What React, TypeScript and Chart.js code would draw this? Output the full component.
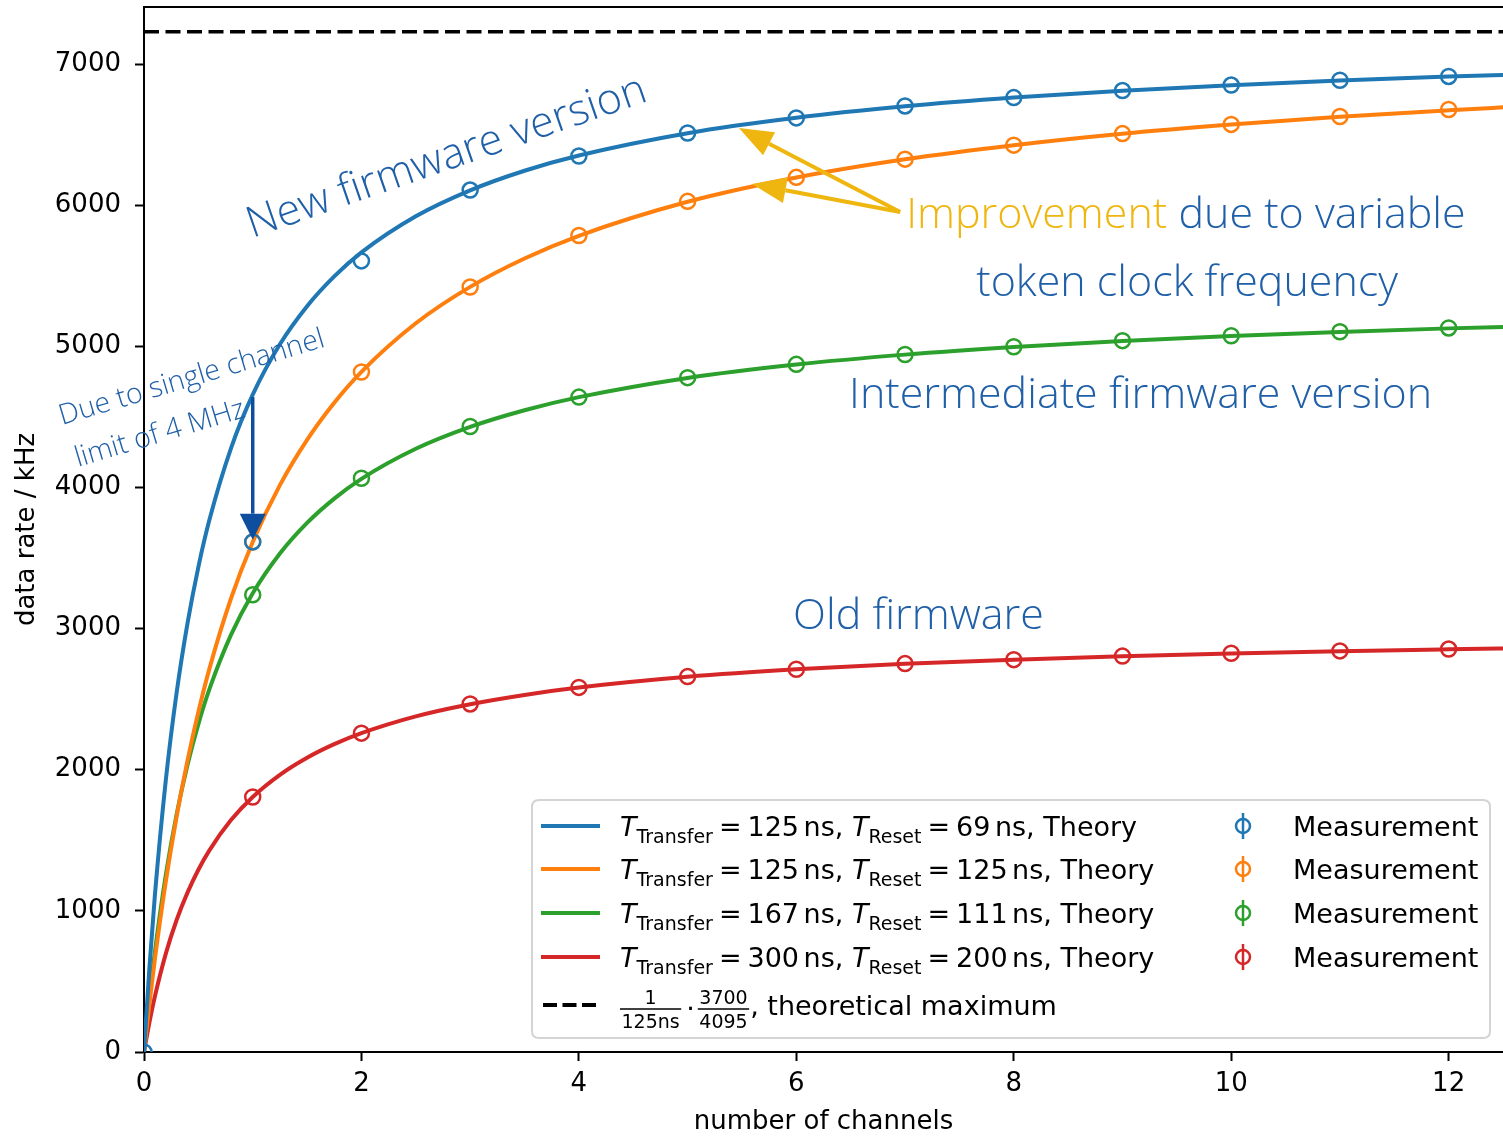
import React, { useEffect, useRef } from 'react';
import { Chart, registerables } from 'chart.js';

Chart.register(...registerables);

// ---------------- data ----------------
const channels = [0, 1, 2, 3, 4, 5, 6, 7, 8, 9, 10, 11, 12];

// sample positions along the theory curves (number of channels)
const theoryX = [0, 0.05, 0.1, 0.2, 0.3, 0.4, 0.5, 0.6, 0.8, 1, 1.25, 1.5, 1.75, 2, 2.5, 3, 3.5, 4, 5, 6, 7, 8, 9, 10, 11, 12, 12.6];

const theoryBlue = [0, 600, 1109, 1922, 2545, 3037, 3436, 3765, 4277, 4657, 5014, 5284, 5495, 5665, 5921, 6105, 6244, 6352, 6510, 6619, 6700, 6762, 6811, 6850, 6883, 6911, 6925];
const theoryOrange = [0, 344, 657, 1205, 1668, 2065, 2409, 2711, 3213, 3614, 4016, 4337, 4600, 4819, 5163, 5421, 5622, 5783, 6024, 6196, 6325, 6425, 6506, 6571, 6626, 6672, 6697];
const theoryGreen = [0, 379, 708, 1251, 1683, 2033, 2323, 2567, 2955, 3250, 3532, 3749, 3921, 4061, 4274, 4429, 4547, 4640, 4776, 4871, 4941, 4995, 5038, 5073, 5102, 5127, 5139];
const theoryRed = [0, 210, 393, 695, 935, 1129, 1291, 1427, 1643, 1807, 1964, 2085, 2181, 2259, 2378, 2464, 2530, 2582, 2658, 2711, 2750, 2780, 2804, 2824, 2840, 2853, 2860];

// measurements (blue starts at 0 channels, the others at 1 channel)
const measBlue = [0, 3614, 5605, 6107, 6348, 6511, 6618, 6703, 6762, 6812, 6851, 6885, 6912];
const measOrange = [3614, 4818, 5420, 5785, 6027, 6197, 6326, 6425, 6507, 6572, 6628, 6678];
const measGreen = [3240, 4065, 4432, 4640, 4778, 4872, 4942, 4997, 5040, 5075, 5103, 5130];
const measRed = [1807, 2259, 2466, 2583, 2660, 2712, 2752, 2780, 2805, 2825, 2842, 2855];

const theoreticalMax = 7228; // 1/125ns * 3700/4095 in kHz

const xTicks = [0, 2, 4, 6, 8, 10, 12];
const yTicks = [0, 1000, 2000, 3000, 4000, 5000, 6000, 7000];
const xMax = 12.5;
const yMax = 7404;

const theoryLabels = [
  { tr: '125', rs: '69' },
  { tr: '125', rs: '125' },
  { tr: '167', rs: '111' },
  { tr: '300', rs: '200' },
];
const measurementLabel = 'Measurement';

// ---------------- styles ----------------
const COLORS = ['#1f77b4', '#ff7f0e', '#2ca02c', '#d62728'];
const ANNOT_BLUE = '#1f5fa8';
const GOLD = '#efb60f';
const DARK_BLUE = '#0d4f9e';
const ANNOT_FONT = '300 43px "Open Sans", "Noto Sans", sans-serif';
const ANNOT_FONT_SMALL = '300 28.5px "Open Sans", "Noto Sans", sans-serif';
const AXIS_FONT = '"DejaVu Sans", sans-serif';

const pts = (xs: number[], ys: number[]) => ys.map((y, i) => ({ x: xs[i], y }));

function rotText(ctx: CanvasRenderingContext2D, text: string, x: number, y: number, deg: number, font: string, color: string) {
  ctx.save();
  ctx.translate(x, y);
  ctx.rotate((deg * Math.PI) / 180);
  ctx.font = font;
  ctx.fillStyle = color;
  ctx.textAlign = 'left';
  ctx.textBaseline = 'alphabetic';
  ctx.fillText(text, 0, 0);
  ctx.restore();
}

function arrow(ctx: CanvasRenderingContext2D, x1: number, y1: number, x2: number, y2: number, color: string, lw: number, headLen: number, headHalf: number) {
  const a = Math.atan2(y2 - y1, x2 - x1);
  const bx = x2 - headLen * Math.cos(a);
  const by = y2 - headLen * Math.sin(a);
  ctx.save();
  ctx.strokeStyle = color;
  ctx.fillStyle = color;
  ctx.lineWidth = lw;
  ctx.lineCap = 'butt';
  ctx.beginPath();
  ctx.moveTo(x1, y1);
  ctx.lineTo(bx, by);
  ctx.stroke();
  ctx.beginPath();
  ctx.moveTo(x2, y2);
  ctx.lineTo(bx + headHalf * Math.sin(a), by - headHalf * Math.cos(a));
  ctx.lineTo(bx - headHalf * Math.sin(a), by + headHalf * Math.cos(a));
  ctx.closePath();
  ctx.fill();
  ctx.restore();
}

const annotationPlugin = {
  id: 'annotations',
  afterDatasetsDraw(chart: any) {
    const ctx: CanvasRenderingContext2D = chart.ctx;
    const xs = chart.scales.x;
    const ys = chart.scales.y;
    const P = (x: number, y: number) => [xs.getPixelForValue(x), ys.getPixelForValue(y)];

    // New firmware version
    let [px, py] = P(0.995, 5767);
    rotText(ctx, 'New firmware version', px, py, -19.1, ANNOT_FONT, ANNOT_BLUE);

    // Due to single channel limit of 4 MHz
    [px, py] = P(-0.755, 4442);
    rotText(ctx, 'Due to single channel', px, py, -16.6, ANNOT_FONT_SMALL, ANNOT_BLUE);
    [px, py] = P(-0.608, 4145);
    rotText(ctx, 'limit of 4 MHz', px, py, -16.6, ANNOT_FONT_SMALL, ANNOT_BLUE);

    // dark blue arrow
    const [ax1, ay1] = P(1.0, 4640);
    const [ax2, ay2] = P(1.0, 3630);
    arrow(ctx, ax1, ay1, ax2, ay2, DARK_BLUE, 3.5, 26, 13);

    // Improvement due to variable token clock frequency
    ctx.save();
    [px, py] = P(7.01, 5838);
    ctx.font = ANNOT_FONT;
    ctx.textBaseline = 'alphabetic';
    ctx.textAlign = 'left';
    ctx.fillStyle = GOLD;
    ctx.fillText('Improvement', px, py);
    const w = ctx.measureText('Improvement ').width;
    ctx.fillStyle = ANNOT_BLUE;
    ctx.fillText('due to variable', px + w, py);
    [px, py] = P(7.655, 5356);
    ctx.fillText('token clock frequency', px, py);
    [px, py] = P(6.485, 4563);
    ctx.fillText('Intermediate firmware version', px, py);
    [px, py] = P(5.97, 2997);
    ctx.fillText('Old firmware', px, py);
    ctx.restore();

    // gold arrows
    const [gx, gy] = P(6.955, 5952);
    const [t1x, t1y] = P(5.472, 6547);
    const [t2x, t2y] = P(5.592, 6150);
    arrow(ctx, gx, gy, t1x, t1y, GOLD, 4, 34, 13);
    arrow(ctx, gx, gy, t2x, t2y, GOLD, 4, 34, 13);

    // top spine
    const ca = chart.chartArea;
    ctx.save();
    ctx.strokeStyle = '#000';
    ctx.lineWidth = 2;
    ctx.beginPath();
    ctx.moveTo(ca.left - 1, ca.top);
    ctx.lineTo(ca.right, ca.top);
    ctx.stroke();
    ctx.restore();
  },
};

type Seg = { t?: string; f?: 'it' | 'sub' | 'rm'; gap?: number };

function drawSegs(ctx: CanvasRenderingContext2D, x: number, y: number, segs: Seg[]) {
  let cx = x;
  for (const s of segs) {
    if (s.gap) {
      cx += s.gap;
      continue;
    }
    let font = `27px ${AXIS_FONT}`;
    let dy = 0;
    if (s.f === 'it') font = `italic 27px ${AXIS_FONT}`;
    if (s.f === 'sub') {
      font = `19px ${AXIS_FONT}`;
      dy = 6.5;
    }
    ctx.font = font;
    ctx.fillText(s.t || '', cx, y + dy);
    cx += ctx.measureText(s.t || '').width;
  }
  return cx;
}

function roundRect(ctx: CanvasRenderingContext2D, x: number, y: number, w: number, h: number, r: number) {
  ctx.beginPath();
  ctx.moveTo(x + r, y);
  ctx.lineTo(x + w - r, y);
  ctx.quadraticCurveTo(x + w, y, x + w, y + r);
  ctx.lineTo(x + w, y + h - r);
  ctx.quadraticCurveTo(x + w, y + h, x + w - r, y + h);
  ctx.lineTo(x + r, y + h);
  ctx.quadraticCurveTo(x, y + h, x, y + h - r);
  ctx.lineTo(x, y + r);
  ctx.quadraticCurveTo(x, y, x + r, y);
  ctx.closePath();
}

const legendPlugin = {
  id: 'mathLegend',
  afterDraw(chart: any) {
    const ctx: CanvasRenderingContext2D = chart.ctx;
    const ca = chart.chartArea;
    const bw = 958;
    const bh = 238;
    const bx = ca.right - 13 - bw;
    const by = ca.bottom - 14 - bh;
    ctx.save();
    roundRect(ctx, bx, by, bw, bh, 7);
    ctx.fillStyle = 'rgba(255,255,255,0.85)';
    ctx.fill();
    ctx.strokeStyle = '#d4d4d4';
    ctx.lineWidth = 2;
    ctx.stroke();

    const rowsY = [26, 69, 113, 157];
    ctx.textAlign = 'left';
    ctx.textBaseline = 'alphabetic';
    ctx.fillStyle = '#000';
    theoryLabels.forEach((lab, i) => {
      const ry = by + rowsY[i];
      ctx.strokeStyle = COLORS[i];
      ctx.lineWidth = 4;
      ctx.beginPath();
      ctx.moveTo(bx + 9, ry);
      ctx.lineTo(bx + 68, ry);
      ctx.stroke();
      ctx.fillStyle = '#000';
      drawSegs(ctx, bx + 88, ry + 10, [
        { t: 'T', f: 'it' },
        { t: 'Transfer', f: 'sub' },
        { gap: 6 },
        { t: '=' },
        { gap: 6 },
        { t: lab.tr },
        { gap: 4.5 },
        { t: 'ns' },
        { t: ', ' },
        { t: 'T', f: 'it' },
        { t: 'Reset', f: 'sub' },
        { gap: 6 },
        { t: '=' },
        { gap: 6 },
        { t: lab.rs },
        { gap: 4.5 },
        { t: 'ns' },
        { t: ', Theory' },
      ]);

      // measurement marker
      const mx = bx + 711;
      ctx.strokeStyle = COLORS[i];
      ctx.lineWidth = 2.5;
      ctx.beginPath();
      ctx.moveTo(mx, ry - 13);
      ctx.lineTo(mx, ry + 13);
      ctx.stroke();
      ctx.beginPath();
      ctx.arc(mx, ry, 7, 0, Math.PI * 2);
      ctx.stroke();
      ctx.font = `27px ${AXIS_FONT}`;
      ctx.fillStyle = '#000';
      ctx.fillText(measurementLabel, bx + 761, ry + 10);
    });

    // dashed max row
    const dy = by + 205;
    ctx.strokeStyle = '#000';
    ctx.lineWidth = 4;
    ctx.setLineDash([14, 5.5]);
    ctx.beginPath();
    ctx.moveTo(bx + 11, dy);
    ctx.lineTo(bx + 66, dy);
    ctx.stroke();
    ctx.setLineDash([]);

    const fracFont = `19px ${AXIS_FONT}`;
    ctx.font = fracFont;
    ctx.fillStyle = '#000';
    const drawFrac = (x: number, num: string, den: string) => {
      ctx.font = fracFont;
      const wn = ctx.measureText(num).width;
      const wd = ctx.measureText(den).width;
      const w = Math.max(wn, wd) + 3;
      ctx.textAlign = 'left';
      ctx.fillText(num, x + (w - wn) / 2, dy - 1);
      ctx.fillText(den, x + (w - wd) / 2, dy + 23);
      ctx.lineWidth = 1.4;
      ctx.beginPath();
      ctx.moveTo(x, dy + 4);
      ctx.lineTo(x + w, dy + 4);
      ctx.stroke();
      return x + w;
    };
    let cx = drawFrac(bx + 88, '1', '125ns');
    ctx.font = `27px ${AXIS_FONT}`;
    cx += 5;
    ctx.fillText('·', cx, dy + 13);
    cx += ctx.measureText('·').width + 3;
    cx = drawFrac(cx, '3700', '4095');
    ctx.font = `27px ${AXIS_FONT}`;
    ctx.fillText(', theoretical maximum', cx + 1, dy + 10);
    ctx.restore();
  },
};

export default function App() {
  const canvasRef = useRef<HTMLCanvasElement | null>(null);

  useEffect(() => {
    if (!canvasRef.current) return;
    const measStyle = (color: string) => ({
      showLine: false,
      pointStyle: 'circle',
      pointRadius: 7.5,
      pointHoverRadius: 7.5,
      pointBorderWidth: 2.5,
      pointBorderColor: color,
      pointBackgroundColor: 'rgba(0,0,0,0)',
      borderColor: color,
      backgroundColor: 'rgba(0,0,0,0)',
    });
    const lineStyle = (color: string) => ({
      showLine: true,
      pointRadius: 0,
      pointHoverRadius: 0,
      borderColor: color,
      backgroundColor: color,
      borderWidth: 4,
      cubicInterpolationMode: 'monotone',
      fill: false,
    });

    const chart = new Chart(canvasRef.current, {
      type: 'scatter',
      data: {
        datasets: [
          { label: 'Measurement', data: pts(channels, measBlue), ...measStyle(COLORS[0]) },
          { label: 'Measurement', data: pts(channels.slice(1), measOrange), ...measStyle(COLORS[1]) },
          { label: 'Measurement', data: pts(channels.slice(1), measGreen), ...measStyle(COLORS[2]) },
          { label: 'Measurement', data: pts(channels.slice(1), measRed), ...measStyle(COLORS[3]) },
          { label: 'Theory 125/69', data: pts(theoryX, theoryBlue), ...lineStyle(COLORS[0]) },
          { label: 'Theory 125/125', data: pts(theoryX, theoryOrange), ...lineStyle(COLORS[1]) },
          { label: 'Theory 167/111', data: pts(theoryX, theoryGreen), ...lineStyle(COLORS[2]) },
          { label: 'Theory 300/200', data: pts(theoryX, theoryRed), ...lineStyle(COLORS[3]) },
          {
            label: 'theoretical maximum',
            data: [
              { x: 0, y: theoreticalMax },
              { x: 12.6, y: theoreticalMax },
            ],
            showLine: true,
            pointRadius: 0,
            borderColor: '#000',
            borderWidth: 3.5,
            borderDash: [15, 6.5],
          },
        ] as any,
      },
      options: {
        responsive: false,
        animation: false,
        devicePixelRatio: 1,
        layout: { autoPadding: false, padding: { left: 0, top: 7, right: 0, bottom: 0 } },
        plugins: { legend: { display: false }, tooltip: { enabled: false } },
        events: [],
        scales: {
          x: {
            type: 'linear',
            min: 0,
            max: xMax,
            afterBuildTicks: (s: any) => {
              s.ticks = xTicks.map((v) => ({ value: v }));
            },
            afterFit: (s: any) => {
              s.height = 85;
              s.paddingLeft = 0;
              s.paddingRight = 0;
              s.paddingTop = 0;
              s.paddingBottom = 0;
            },
            ticks: {
              callback: (v: any) => String(v),
              font: { family: AXIS_FONT, size: 26 },
              color: '#000',
              padding: 8,
              maxRotation: 0,
              autoSkip: false,
            },
            grid: { drawOnChartArea: false, drawTicks: true, tickLength: 9, tickWidth: 2, tickColor: '#000' },
            border: { color: '#000', width: 2 },
            title: {
              display: true,
              text: 'number of channels',
              font: { family: AXIS_FONT, size: 26, lineHeight: 1.1 },
              color: '#000',
              padding: { top: 0, bottom: 0 },
            },
          },
          y: {
            type: 'linear',
            min: 0,
            max: yMax,
            afterBuildTicks: (s: any) => {
              s.ticks = yTicks.map((v) => ({ value: v }));
            },
            afterFit: (s: any) => {
              s.width = 144;
              s.paddingLeft = 0;
              s.paddingRight = 0;
              s.paddingTop = 0;
              s.paddingBottom = 0;
            },
            ticks: {
              callback: (v: any) => String(v),
              font: { family: AXIS_FONT, size: 26 },
              color: '#000',
              padding: 14,
              autoSkip: false,
            },
            grid: { drawOnChartArea: false, drawTicks: true, tickLength: 9, tickWidth: 2, tickColor: '#000' },
            border: { color: '#000', width: 2 },
            title: {
              display: true,
              text: 'data rate / kHz',
              font: { family: AXIS_FONT, size: 26 },
              color: '#000',
              padding: { top: 12, bottom: 0 },
            },
          },
        },
      } as any,
      plugins: [annotationPlugin, legendPlugin],
    });
    return () => chart.destroy();
  }, []);

  return (
    <div style={{ position: 'absolute', left: 0, top: 0, width: 1503, height: 1137, background: '#fff' }}>
      <canvas ref={canvasRef} width={1503} height={1137} />
    </div>
  );
}
